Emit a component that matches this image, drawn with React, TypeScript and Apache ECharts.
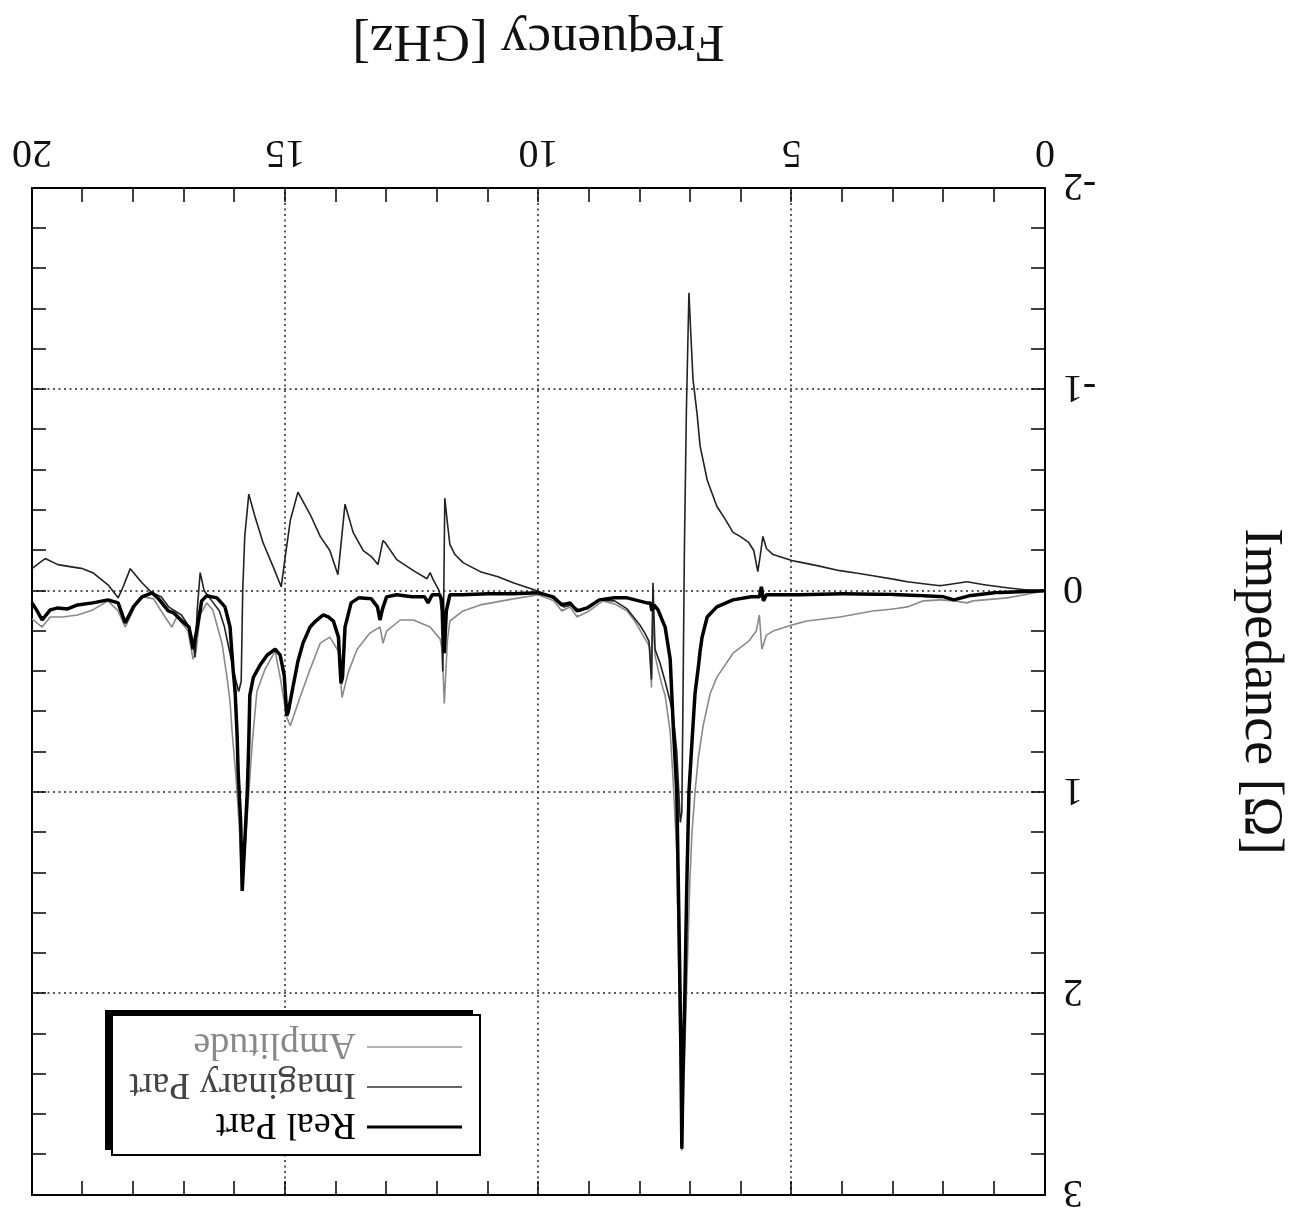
import React, { useEffect, useRef } from "react";
import * as echarts from "echarts";

// Frequency [GHz] , Impedance [Ohm]
const realPart: [number, number][] = [
  [0, 0], [0.5, 0.005], [1.0, 0.01], [1.5, 0.025], [1.8, 0.045], [2.0, 0.03], [2.4, 0.025], [3.0, 0.018],
  [4.0, 0.015], [4.84, 0.02], [5.5, 0.02], [5.56, 0.05], [5.6, -0.02], [5.64, 0.03], [5.8, 0.03], [6.16, 0.045],
  [6.48, 0.08], [6.67, 0.13], [6.77, 0.23], [6.81, 0.3], [6.84, 0.37], [6.91, 0.51], [6.97, 0.75], [7.03, 1.0],
  [7.07, 1.43], [7.11, 2.0], [7.15, 2.43], [7.17, 2.77], [7.19, 2.26], [7.23, 1.6], [7.27, 1.0], [7.34, 0.67],
  [7.4, 0.34], [7.5, 0.18], [7.64, 0.095], [7.72, 0.07], [7.76, 0.1], [7.79, 0.06], [7.86, 0.06], [8.25, 0.035],
  [8.5, 0.035], [8.8, 0.045], [9.04, 0.085], [9.24, 0.1], [9.38, 0.06], [9.54, 0.07], [9.71, 0.03], [10.0, 0.01],
  [10.5, 0.015], [11.0, 0.015], [11.5, 0.02], [11.75, 0.02], [11.82, 0.1], [11.86, 0.31], [11.9, 0.05], [11.95, 0.02],
  [12.1, 0.02], [12.18, 0.06], [12.25, 0.03], [12.5, 0.03], [12.8, 0.02], [13.0, 0.03], [13.08, 0.09], [13.13, 0.145],
  [13.18, 0.08], [13.3, 0.04], [13.55, 0.035], [13.7, 0.06], [13.82, 0.18], [13.87, 0.43], [13.9, 0.46], [13.95, 0.23],
  [14.05, 0.15], [14.15, 0.13], [14.25, 0.12], [14.4, 0.15], [14.51, 0.18], [14.65, 0.26], [14.75, 0.35], [14.85, 0.48],
  [14.94, 0.6], [14.97, 0.62], [15.02, 0.42], [15.1, 0.32], [15.2, 0.29], [15.36, 0.32], [15.5, 0.37], [15.63, 0.43],
  [15.7, 0.52], [15.72, 0.75], [15.75, 1.0], [15.8, 1.25], [15.85, 1.49], [15.88, 1.15], [15.93, 0.9], [15.95, 0.72],
  [15.99, 0.5], [16.03, 0.39], [16.09, 0.18], [16.19, 0.08], [16.35, 0.035], [16.55, 0.025], [16.65, 0.05], [16.75, 0.2],
  [16.82, 0.29], [16.9, 0.18], [17.04, 0.15], [17.2, 0.11], [17.31, 0.1], [17.5, 0.04], [17.63, 0.01], [17.83, 0.03],
  [18.0, 0.08], [18.16, 0.16], [18.3, 0.06], [18.5, 0.045], [18.8, 0.06], [19.1, 0.07], [19.3, 0.09], [19.49, 0.085],
  [19.64, 0.095], [19.8, 0.145], [19.9, 0.1], [20, 0.06],
];

const imagPart: [number, number][] = [
  [0, 0], [0.4, -0.005], [0.75, -0.015], [1.2, -0.03], [1.54, -0.045], [1.8, -0.035], [2.07, -0.025], [2.4, -0.035],
  [2.72, -0.045], [3.0, -0.058], [3.4, -0.075], [3.7, -0.087], [4.05, -0.1], [4.5, -0.125], [5.0, -0.15], [5.37, -0.18],
  [5.5, -0.21], [5.57, -0.27], [5.62, -0.18], [5.67, -0.095], [5.75, -0.2], [5.85, -0.24], [6.02, -0.27], [6.16, -0.29],
  [6.3, -0.35], [6.48, -0.42], [6.67, -0.55], [6.81, -0.72], [6.87, -0.88], [6.95, -1.05], [6.99, -1.26], [7.03, -1.48],
  [7.08, -0.9], [7.12, -0.2], [7.15, 0.6], [7.17, 1.1], [7.2, 1.15], [7.23, 1.0], [7.27, 0.8], [7.34, 0.62],
  [7.4, 0.55], [7.5, 0.45], [7.6, 0.36], [7.7, 0.29], [7.74, -0.04], [7.77, 0.44], [7.82, 0.25], [7.9, 0.21],
  [8.0, 0.17], [8.25, 0.09], [8.5, 0.05], [8.8, 0.045], [9.0, 0.08], [9.18, 0.1], [9.35, 0.07], [9.5, 0.08],
  [9.7, 0.04], [9.85, 0.02], [10.03, 0], [10.5, -0.04], [10.8, -0.07], [11.15, -0.095], [11.49, -0.14], [11.65, -0.18],
  [11.75, -0.23], [11.8, -0.34], [11.85, -0.46], [11.87, 0.0], [11.89, 0.4], [11.92, 0.1], [11.96, 0.0], [12.08, -0.055],
  [12.14, -0.09], [12.2, -0.06], [12.47, -0.1], [12.8, -0.155], [13.03, -0.24], [13.07, -0.25], [13.17, -0.13], [13.3, -0.17],
  [13.46, -0.2], [13.66, -0.29], [13.82, -0.43], [13.96, -0.08], [14.12, -0.2], [14.31, -0.27], [14.51, -0.38], [14.75, -0.49],
  [14.9, -0.35], [15.0, -0.17], [15.08, -0.02], [15.24, -0.12], [15.44, -0.24], [15.6, -0.37], [15.72, -0.48], [15.8, -0.27],
  [15.84, 0.0], [15.87, 0.45], [15.92, 0.5], [16.0, 0.42], [16.1, 0.3], [16.2, 0.18], [16.3, 0.1], [16.45, 0.05],
  [16.6, 0.0], [16.68, -0.09], [16.74, 0.1], [16.78, 0.33], [16.85, 0.22], [16.92, 0.17], [17.05, 0.12], [17.18, 0.1],
  [17.3, 0.08], [17.45, 0.03], [17.63, 0.01], [17.83, -0.04], [18.06, -0.11], [18.2, -0.02], [18.3, 0.035], [18.5, -0.03],
  [18.8, -0.09], [19.0, -0.11], [19.25, -0.12], [19.49, -0.13], [19.74, -0.16], [19.9, -0.13], [20, -0.11],
];

const amplitude: [number, number][] = [
  [0, 0], [0.4, 0.02], [0.75, 0.035], [1.2, 0.045], [1.42, 0.05], [1.54, 0.06], [1.8, 0.05], [2.07, 0.045],
  [2.4, 0.05], [2.72, 0.08], [3.0, 0.09], [3.4, 0.1], [4.05, 0.13], [4.7, 0.15], [5.0, 0.17], [5.37, 0.2],
  [5.5, 0.22], [5.59, 0.29], [5.64, 0.12], [5.7, 0.2], [5.85, 0.25], [6.16, 0.31], [6.48, 0.43], [6.61, 0.51],
  [6.75, 0.67], [6.85, 0.84], [6.91, 1.0], [6.97, 1.2], [7.01, 1.43], [7.07, 1.93], [7.13, 2.43], [7.17, 2.78],
  [7.19, 2.5], [7.23, 1.9], [7.27, 1.3], [7.34, 0.95], [7.4, 0.7], [7.5, 0.52], [7.56, 0.47], [7.64, 0.39],
  [7.7, 0.32], [7.74, 0.1], [7.77, 0.48], [7.8, 0.28], [7.94, 0.22], [8.1, 0.15], [8.25, 0.1], [8.5, 0.065],
  [8.73, 0.05], [9.0, 0.1], [9.24, 0.13], [9.38, 0.08], [9.54, 0.1], [9.7, 0.05], [10.0, 0.02], [10.5, 0.04],
  [11.15, 0.07], [11.49, 0.1], [11.75, 0.15], [11.8, 0.25], [11.86, 0.56], [11.9, 0.3], [11.94, 0.24], [12.14, 0.18],
  [12.47, 0.145], [12.73, 0.145], [13.0, 0.2], [13.07, 0.26], [13.13, 0.18], [13.33, 0.21], [13.58, 0.29], [13.75, 0.4],
  [13.88, 0.53], [13.95, 0.3], [14.12, 0.23], [14.31, 0.26], [14.51, 0.39], [14.71, 0.53], [14.9, 0.67], [14.97, 0.63],
  [15.1, 0.43], [15.2, 0.3], [15.4, 0.39], [15.56, 0.5], [15.65, 0.75], [15.72, 1.0], [15.8, 1.3], [15.85, 1.49],
  [15.9, 1.2], [15.98, 0.9], [16.05, 0.7], [16.09, 0.55], [16.15, 0.43], [16.25, 0.26], [16.43, 0.095], [16.55, 0.06],
  [16.68, 0.12], [16.76, 0.3], [16.82, 0.34], [16.92, 0.2], [17.14, 0.13], [17.24, 0.18], [17.4, 0.12], [17.6, 0.04],
  [17.8, 0.03], [17.95, 0.07], [18.16, 0.18], [18.3, 0.1], [18.5, 0.05], [18.8, 0.095], [19.1, 0.12], [19.4, 0.13],
  [19.64, 0.13], [19.8, 0.18], [19.9, 0.16], [20, 0.14],
];

const seriesNames = ["Real Part", "Imaginary Part", "Amplitude"];
const xRange = [0, 20];
const yRange = [-2, 3];

export default function App() {
  const ref = useRef<HTMLDivElement>(null);
  useEffect(() => {
    if (!ref.current) return;
    const chart = echarts.init(ref.current, null, { renderer: "svg" });
    const font = "'Liberation Serif', 'Times New Roman', serif";
    const frameLine = { show: true, onZero: false, lineStyle: { color: "#000", width: 2 } };
    const tick = { show: true, inside: true, length: 14, lineStyle: { color: "#000", width: 1.5 } };
    const minor = (n: number) => ({ show: true, splitNumber: n, length: 14, lineStyle: { color: "#000", width: 1.5 } });
    const grid = { show: true, lineStyle: { color: "#222", width: 1.5, type: [2, 3.5] } };
    chart.setOption({
      animation: false,
      backgroundColor: "#fff",
      grid: { left: 261, right: 32, top: 31, bottom: 188 },
      xAxis: [
        {
          type: "value", min: xRange[0], max: xRange[1], interval: 5, position: "bottom",
          name: "Frequency [GHz]", nameLocation: "middle", nameGap: 117,
          nameTextStyle: { fontFamily: font, fontSize: 53, color: "#111" },
          axisLine: frameLine, axisTick: tick, minorTick: minor(5),
          axisLabel: { fontFamily: font, fontSize: 40, color: "#111", margin: 13 },
          splitLine: grid, minorSplitLine: { show: false },
        },
        {
          type: "value", min: xRange[0], max: xRange[1], interval: 5, position: "top",
          axisLine: frameLine, axisTick: tick, minorTick: minor(5),
          axisLabel: { show: false }, splitLine: { show: false },
        },
      ],
      yAxis: [
        {
          type: "value", min: yRange[0], max: yRange[1], interval: 1, position: "left",
          name: "Impedance [Ω]", nameLocation: "middle", nameGap: 192, nameRotate: 90,
          nameTextStyle: { fontFamily: font, fontSize: 54, color: "#111" },
          axisLine: frameLine, axisTick: tick, minorTick: minor(5),
          axisLabel: { fontFamily: font, fontSize: 40, color: "#111", margin: 18 },
          splitLine: grid, minorSplitLine: { show: false },
        },
        {
          type: "value", min: yRange[0], max: yRange[1], interval: 1, position: "right",
          axisLine: frameLine, axisTick: tick, minorTick: minor(5),
          axisLabel: { show: false }, splitLine: { show: false },
        },
      ],
      legend: {
        orient: "vertical", left: 844, top: 80, itemWidth: 95, itemHeight: 14, itemGap: 2,
        padding: 0, z: 110, selectedMode: false,
        textStyle: { fontFamily: font, fontSize: 38, lineHeight: 38, color: "#000", padding: [0, 0, 0, 6] },
        data: [
          { name: seriesNames[0], icon: "path://M0 0H100V3H0Z", itemStyle: { color: "#000" }, textStyle: { color: "#000" } },
          { name: seriesNames[1], icon: "path://M0 0H100V1.8H0Z", itemStyle: { color: "#333" }, textStyle: { color: "#444" } },
          { name: seriesNames[2], icon: "path://M0 0H100V1.8H0Z", itemStyle: { color: "#999" }, textStyle: { color: "#888" } },
        ],
      },
      graphic: {
        elements: [
          { type: "rect", z: 100, shape: { x: 833, y: 76, width: 368, height: 140 }, style: { fill: "#000" } },
          { type: "rect", z: 101, shape: { x: 826, y: 71, width: 368, height: 140 }, style: { fill: "#fff", stroke: "#000", lineWidth: 2 } },
        ],
      },
      series: [
        {
          name: seriesNames[2], type: "line", data: amplitude, symbol: "none", showSymbol: false, z: 3,
          lineStyle: { color: "#8a8a8a", width: 1.6 }, itemStyle: { color: "#8a8a8a" },
        },
        {
          name: seriesNames[1], type: "line", data: imagPart, symbol: "none", showSymbol: false, z: 4,
          lineStyle: { color: "#222", width: 1.6 }, itemStyle: { color: "#222" },
        },
        {
          name: seriesNames[0], type: "line", data: realPart, symbol: "none", showSymbol: false, z: 5,
          lineStyle: { color: "#000", width: 3.5 }, itemStyle: { color: "#000" },
        },
      ],
    });
    return () => chart.dispose();
  }, []);
  return (
    <div
      style={{
        position: "fixed", left: 0, top: 0, width: 1306, height: 1226,
        transform: "rotate(180deg)", transformOrigin: "50% 50%", background: "#fff",
      }}
    >
      <div ref={ref} style={{ width: 1306, height: 1226 }} />
    </div>
  );
}
